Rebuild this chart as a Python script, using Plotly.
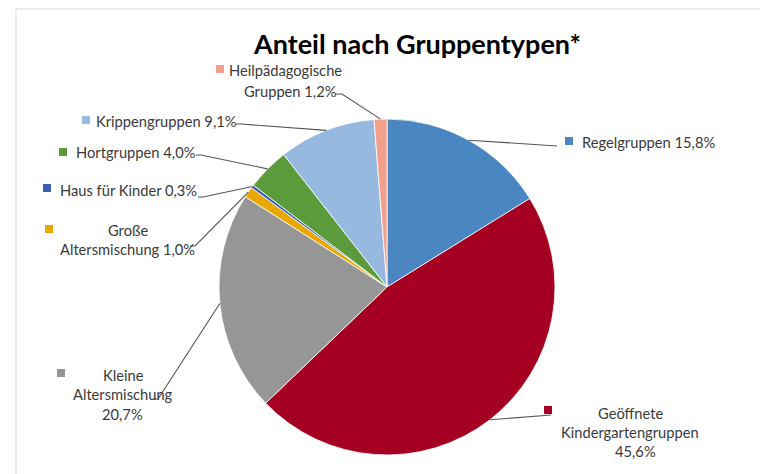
import math
import plotly.graph_objects as go

# ---- data ----
categories = ["Regelgruppen", "Geöffnete Kindergartengruppen", "Kleine Altersmischung",
              "Große Altersmischung", "Haus für Kinder", "Hortgruppen",
              "Krippengruppen", "Heilpädagogische Gruppen"]
values = [15.8, 45.6, 20.7, 1.0, 0.3, 4.0, 9.1, 1.2]
colors = ["#4a86c2", "#a50021", "#969696", "#e9a800", "#3b5fb4", "#5b9b3b", "#97b9e0", "#f2a08c"]
title = "Anteil nach Gruppentypen*"

W, H = 760, 474
# pie placement in pixels
cx, cy, r = 387, 287, 168

def px(x):
    return x / W

def py(y):
    return 1 - y / H

def fmt(v):
    return f"{v:.1f}%".replace(".", ",")

# label layout: text lines ("%" is replaced by the value), line centres, key square, leader start/elbow
label_layout = [
    dict(lines=["Regelgruppen %"], pos=[(648, 142)], sq=(569, 141), start=(557, 146), elbow=(557, 146)),
    dict(lines=["Geöffnete", "Kindergartengruppen", "%"], pos=[(630, 413), (629.5, 432), (635.5, 451)],
         sq=(548, 410), start=(551, 415), elbow=(551, 415)),
    dict(lines=["Kleine", "Altersmischung", "%"], pos=[(123.5, 375), (122.5, 394), (122.5, 414)],
         sq=(61, 373), start=(153, 399), elbow=(158, 399)),
    dict(lines=["Große", "Altersmischung %"], pos=[(128, 230), (127.5, 249)],
         sq=(49, 229), start=(190, 246), elbow=(195, 246)),
    dict(lines=["Haus für Kinder %"], pos=[(128.5, 190)], sq=(47, 188), start=(198, 197), elbow=(203, 197)),
    dict(lines=["Hortgruppen %"], pos=[(136, 152)], sq=(63, 152), start=(196, 155), elbow=(201, 155)),
    dict(lines=["Krippengruppen %"], pos=[(166.5, 121)], sq=(86, 120), start=(236, 124), elbow=(241, 124)),
    dict(lines=["Heilpädagogische", "Gruppen %"], pos=[(285, 70), (290, 91)],
         sq=(220, 69), start=(336, 94), elbow=(342, 94)),
]

fig = go.Figure()
fig.add_trace(go.Pie(
    labels=categories, values=values, sort=False, direction="clockwise", rotation=0,
    marker=dict(colors=colors, line=dict(color="#ffffff", width=0.8)),
    textinfo="none", hoverinfo="label+percent", showlegend=False,
    domain=dict(x=[px(cx - r), px(cx + r)], y=[py(cy + r), py(cy - r)]),
))

total = sum(values)
annotations = []
shapes = []
cum = 0.0
font = dict(family="Lato, Open Sans, sans-serif", size=14.7, color="#3a3a3a")
for cat, v, col, lay in zip(categories, values, colors, label_layout):
    mid = (cum + v / 2) / total * 2 * math.pi
    cum += v
    ex = cx + r * math.sin(mid)
    ey = cy - r * math.cos(mid)
    for text, (tx, ty) in zip(lay["lines"], lay["pos"]):
        t = text.replace("%", fmt(v))
        annotations.append(dict(x=px(tx), y=py(ty), xref="paper", yref="paper", text=t,
                                showarrow=False, xanchor="center", yanchor="middle", font=font))
    sx, sy = lay["sq"]
    shapes.append(dict(type="rect", xref="paper", yref="paper",
                       x0=px(sx - 4), x1=px(sx + 4), y0=py(sy + 4), y1=py(sy - 4),
                       fillcolor=col, line=dict(width=0)))
    (x0, y0), (x1, y1) = lay["start"], lay["elbow"]
    path = f"M {px(x0)} {py(y0)} L {px(x1)} {py(y1)} L {px(ex)} {py(ey)}"
    shapes.append(dict(type="path", xref="paper", yref="paper", path=path,
                       line=dict(color="#555555", width=1.1)))

# outer chart frame
shapes.append(dict(type="rect", xref="paper", yref="paper",
                   x0=px(16), x1=px(W + 20), y0=py(H + 20), y1=py(9),
                   line=dict(color="#d9d9d9", width=1), fillcolor="rgba(0,0,0,0)", layer="below"))

annotations.append(dict(x=px(417), y=py(44), xref="paper", yref="paper", text=f"<b>{title}</b>",
                        showarrow=False, xanchor="center", yanchor="middle",
                        font=dict(family="Lato, Open Sans, sans-serif", size=27, color="#000000")))

fig.update_layout(width=W, height=H, margin=dict(l=0, r=0, t=0, b=0),
                  paper_bgcolor="white", plot_bgcolor="white",
                  annotations=annotations, shapes=shapes)
fig.write_html("out.html", config={"displayModeBar": False},
               post_script="document.body.style.margin='0';document.body.style.overflow='hidden';")
